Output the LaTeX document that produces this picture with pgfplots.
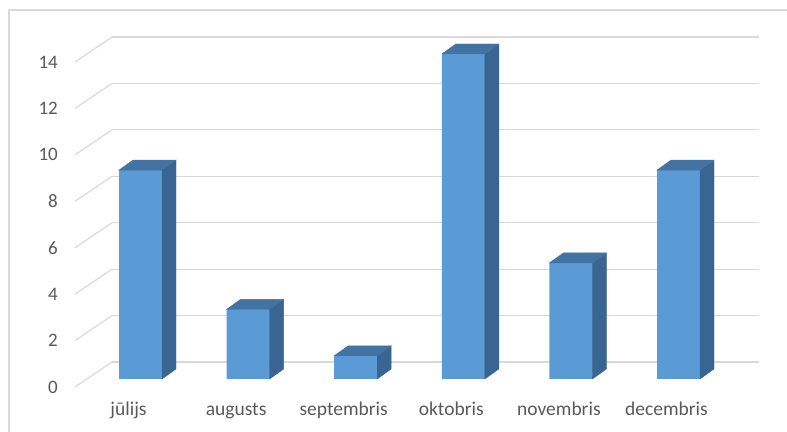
\documentclass[border=0pt]{standalone}
\usepackage{pgfplots}
\pgfplotsset{compat=1.18}
\usepackage{pgfplotstable}
\usepackage{fontspec}
\setmainfont{Carlito}
\definecolor{frontblue}{HTML}{5B9BD5}
\definecolor{sidecol}{HTML}{386591}
\definecolor{topcol}{HTML}{4273A2}
\definecolor{gridgray}{HTML}{D9D9D9}
\definecolor{labelgray}{HTML}{595959}
\pgfplotstableread{
x y
0 9
1 3
2 1
3 14
4 5
5 9
}\datatable
\begin{document}
\begin{tikzpicture}
\path[use as bounding box] (0pt,0pt) rectangle (787pt,431pt);
\draw[gridgray, line width=1.2pt] (9pt,-5pt) -- (9pt,421pt) -- (795pt,421pt);
% back wall with gridlines
\begin{axis}[at={(112pt,69pt)}, anchor=south west, scale only axis,
  width=647pt, height=325pt, xmin=0, xmax=1, ymin=0, ymax=14,
  ytick={0,2,...,14}, xtick=\empty,
  ymajorgrids, grid style={draw=gridgray, line width=1.2pt},
  axis line style={draw=none}, major tick length=0pt,
  /pgf/number format/assume math mode=true,
  yticklabel style={anchor=east, inner sep=0pt, xshift=-54pt, yshift=-25pt,
    font=\fontsize{19}{22}\selectfont, text=labelgray},
  clip=false]
\pgfplotsinvokeforeach{0,2,4,6,8,10,12,14}{
  \draw[gridgray, line width=1.2pt] (axis cs:0,#1) -- ++(-37pt,-25pt);
}
\end{axis}
% bars
\begin{axis}[at={(86.7pt,52pt)}, anchor=south west, scale only axis,
  width=645.6pt, height=325pt, xmin=-0.5, xmax=5.5, ymin=0, ymax=14,
  ytick=\empty, xtick={0,1,2,3,4,5},
  xticklabels={jūlijs,augusts,septembris,oktobris,novembris,decembris},
  axis line style={draw=none}, major tick length=0pt,
  xticklabel style={anchor=base, inner sep=0pt, xshift=-12pt, yshift=-36pt,
    font=\fontsize{19.5}{23}\selectfont, text=labelgray},
  clip=false]
\addplot[ybar, bar width=43pt, fill=frontblue, draw=none] table[x=x,y=y]{\datatable};
\addplot[scatter, only marks, mark=none,
  visualization depends on={\thisrow{y} \as \val},
  scatter/@pre marker code/.code={%
    \pgfmathsetlengthmacro\h{\val*325/14*1pt}%
    \fill[sidecol] (21.5pt,0pt) -- (35.5pt,10pt) -- (35.5pt,{10pt-\h}) -- (21.5pt,{-\h}) -- cycle;
    \fill[topcol] (-21.5pt,0pt) -- (-7.5pt,10pt) -- (35.5pt,10pt) -- (21.5pt,0pt) -- cycle;
  },
  scatter/@post marker code/.code={}
] table[x=x,y=y]{\datatable};
\end{axis}
\end{tikzpicture}
\end{document}
